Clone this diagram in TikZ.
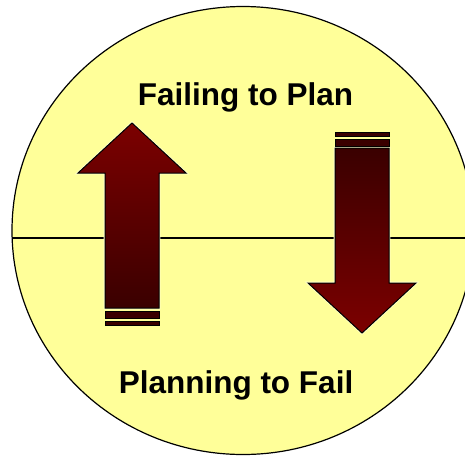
\documentclass[tikz,border=0pt]{standalone}
\usepackage{fontspec}
\setmainfont{Liberation Sans}
\definecolor{pale}{HTML}{FFFF99}
\definecolor{brightmaroon}{HTML}{7C0000}
\definecolor{darkmaroon}{HTML}{3A0000}

\begin{document}
\begin{tikzpicture}[x=1pt, y=-1pt,
    arrowbody/.style={draw=black, line width=1pt, line join=miter,
      preaction={draw=pale!50!white, line width=2.6pt}},
    barbox/.style={draw=black, line width=1pt, fill=darkmaroon},
    caption/.style={font=\fontsize{31.5}{36}\selectfont\bfseries, inner sep=0pt}]
    \useasboundingbox (0,0) rectangle (465,456);
    % Disc, cut by the right and bottom edges
    \begin{scope}
        \clip (0,0) rectangle (465,456);
        \filldraw[fill=pale, draw=black, line width=1.2pt]
            (243,230.5) ellipse [x radius=231pt, y radius=224pt];
    \end{scope}
    % Dividing line
    \draw[black, line width=1.2pt] (12.1,238) -- (465,238);
    % Upward arrow with its bars
    \shade[arrowbody, top color=brightmaroon, bottom color=darkmaroon]
        (105,308) -- (105,173) -- (78,173) -- (132,123) -- (186,173)
        -- (159,173) -- (159,308) -- cycle;
    \draw[barbox] (105,311) rectangle (159,318);
    \draw[barbox] (105,321) rectangle (159,325);
    % Downward arrow with its bars
    \shade[arrowbody, top color=darkmaroon, bottom color=brightmaroon]
        (335,148) -- (335,283) -- (308,283) -- (362,333) -- (416,283)
        -- (389,283) -- (389,148) -- cycle;
    \draw[barbox] (335,132) rectangle (389,136);
    \draw[barbox] (335,139) rectangle (389,146);
    % Captions
    \node[caption, anchor=base] (failplan) at (245.5,105) {Failing to Plan};
    \node[caption, anchor=base] (planfail) at (236,393) {Planning to Fail};
\end{tikzpicture}
\end{document}
